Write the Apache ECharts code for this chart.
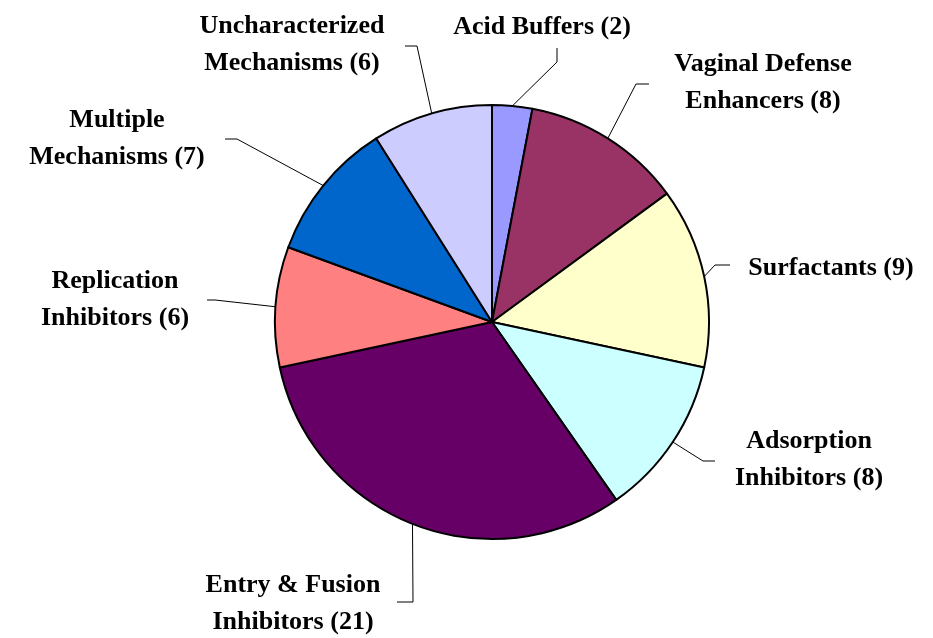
<!DOCTYPE html>
<html>
<head>
<meta charset="utf-8">
<script src="https://cdn.jsdelivr.net/npm/echarts@6/dist/echarts.min.js"></script>
<style>
html,body{margin:0;padding:0;background:#fff;}
#chart{width:933px;height:638px;}
</style>
</head>
<body>
<div id="chart"></div>
<script>
// ---- data ----
const categories = [
  'Acid Buffers',
  'Vaginal Defense\nEnhancers',
  'Surfactants',
  'Adsorption\nInhibitors',
  'Entry & Fusion\nInhibitors',
  'Replication\nInhibitors',
  'Multiple\nMechanisms',
  'Uncharacterized\nMechanisms'
];
const counts = [2, 8, 9, 8, 21, 6, 7, 6];
const colors = ['#9999FF', '#993366', '#FFFFCC', '#CCFFFF', '#660066', '#FF8080', '#0066CC', '#CCCCFF'];

// ---- label layout (positions of label text and leader-line bends) ----
const labelPos = [
  {x: 542, y: 27,  bend: [557, 62],  end: [557, 48]},
  {x: 763, y: 83,  bend: [636, 84],  end: [649, 84]},
  {x: 831, y: 268, bend: [715, 265], end: [730, 265]},
  {x: 809, y: 460, bend: [703, 461], end: [715, 461]},
  {x: 293, y: 604, bend: [413, 602], end: [397, 602]},
  {x: 115, y: 300, bend: [215, 300], end: [207, 300]},
  {x: 117, y: 139, bend: [237, 139], end: [225, 139]},
  {x: 292, y: 45,  bend: [417, 46],  end: [405, 46]}
];

const chart = echarts.init(document.getElementById('chart'), null, {renderer: 'canvas'});
chart.setOption({
  animation: false,
  backgroundColor: '#ffffff',
  series: [{
    type: 'pie',
    center: [492, 322],
    radius: 217,
    startAngle: 90,
    clockwise: true,
    avoidLabelOverlap: false,
    data: categories.map((c, i) => ({
      name: c,
      value: counts[i],
      itemStyle: {color: colors[i]}
    })),
    itemStyle: {borderColor: '#000', borderWidth: 2},
    emphasis: {disabled: true},
    label: {
      show: true,
      position: 'outside',
      formatter: '{b} ({c})',
      fontFamily: '"Liberation Serif", "Times New Roman", serif',
      fontWeight: 'bold',
      fontSize: 26,
      lineHeight: 37,
      color: '#000',
      align: 'center'
    },
    labelLine: {
      show: true,
      length: 20,
      length2: 10,
      lineStyle: {color: '#000', width: 1}
    },
    labelLayout: function (params) {
      const L = labelPos[params.dataIndex];
      const start = params.labelLinePoints ? params.labelLinePoints[0] : L.bend;
      return {
        x: L.x,
        y: L.y,
        align: 'center',
        verticalAlign: 'middle',
        labelLinePoints: [start, L.bend, L.end]
      };
    }
  }]
});
</script>
</body>
</html>
